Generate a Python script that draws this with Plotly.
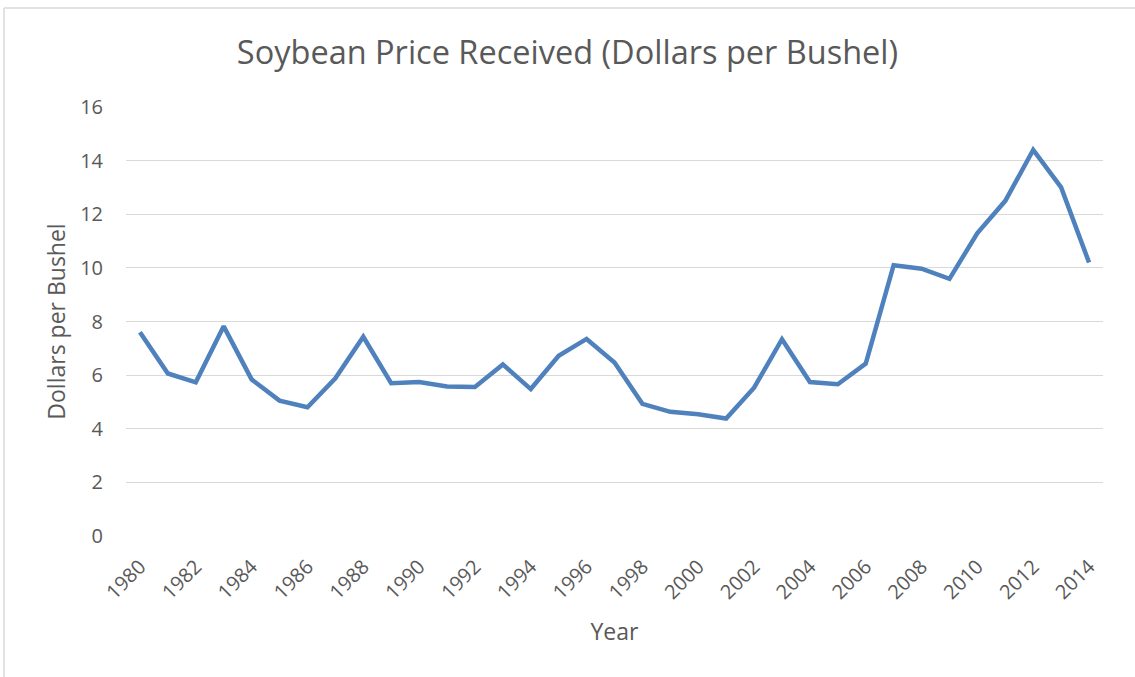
import plotly.graph_objects as go

years = list(range(1980, 2015))
prices = [7.60, 6.06, 5.73, 7.82, 5.84, 5.05, 4.80, 5.88, 7.43, 5.70,
          5.74, 5.58, 5.56, 6.40, 5.48, 6.72, 7.35, 6.47, 4.93, 4.63,
          4.54, 4.38, 5.53, 7.34, 5.74, 5.66, 6.43, 10.10, 9.97, 9.59,
          11.30, 12.50, 14.40, 13.00, 10.20]
y_ticks = [0, 2, 4, 6, 8, 10, 12, 14, 16]
x_ticks = list(range(1980, 2015, 2))

title_text = "Soybean Price Received (Dollars per Bushel)"
x_title = "Year"
y_title = "Dollars per Bushel"

font_family = "Open Sans"
text_color = "#595959"
grid_color = "#D9D9D9"

fig = go.Figure()
fig.add_trace(go.Scatter(
    x=years, y=prices, mode="lines",
    line=dict(color="#4F81BD", width=4.5),
    hoverinfo="x+y", showlegend=False,
))

fig.update_layout(
    width=1135, height=677,
    paper_bgcolor="white", plot_bgcolor="white",
    margin=dict(l=126, r=32, t=107, b=141),
    title=dict(text=title_text, x=0.5, xanchor="center", y=1 - 53 / 677, yanchor="middle",
               font=dict(family=font_family, size=32.5, color=text_color)),
    font=dict(family=font_family, color=text_color),
    xaxis=dict(
        range=[1979.5, 2014.5], tickmode="array", tickvals=x_ticks,
        ticktext=[str(v) for v in x_ticks], tickangle=-45,
        tickfont=dict(size=20, color=text_color), showgrid=False, zeroline=False,
        showline=False, ticks="", ticklabelstandoff=14,
        title=dict(text=x_title, font=dict(size=23, color=text_color), standoff=20),
    ),
    yaxis=dict(
        range=[0, 16], tickmode="array", tickvals=y_ticks,
        tickfont=dict(size=20, color=text_color), showgrid=True, gridcolor=grid_color,
        gridwidth=1.3, zeroline=False, showline=False, ticks="", ticklabelstandoff=22,
        title=dict(text=y_title, font=dict(size=23, color=text_color), standoff=8),
    ),
    shapes=[
        dict(type="line", xref="paper", yref="paper",
             x0=(4 - 126) / 977, x1=(1140 - 126) / 977,
             y0=(536 - 8) / 429, y1=(536 - 8) / 429,
             line=dict(color="#D9D9D9", width=1.5)),
        dict(type="line", xref="paper", yref="paper",
             x0=(4 - 126) / 977, x1=(4 - 126) / 977,
             y0=(536 - 8) / 429, y1=(536 - 680) / 429,
             line=dict(color="#D9D9D9", width=1.5)),
    ],
)

fig.write_html("out.html", config={"displayModeBar": False},
               post_script="document.body.style.margin='0';")
